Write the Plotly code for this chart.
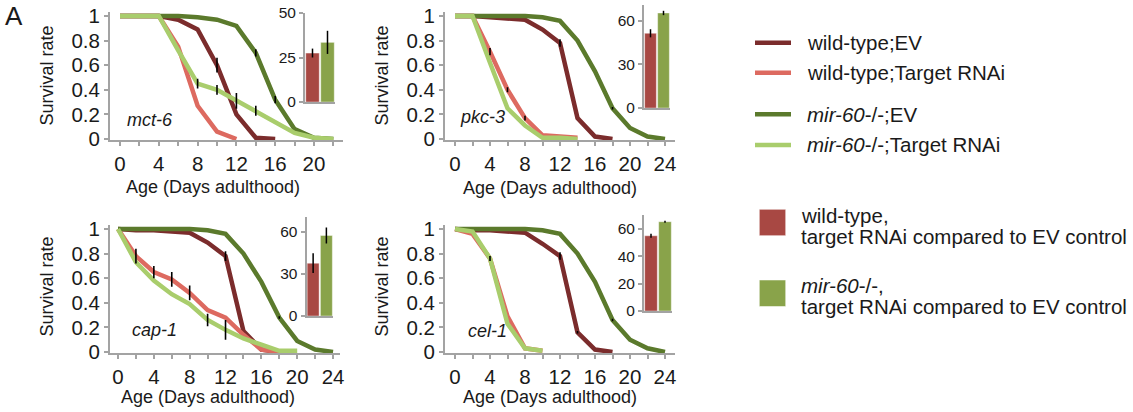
import plotly.graph_objects as go

W, H = 1133, 412

# ---------------- data ----------------
panels = ["mct-6", "pkc-3", "cap-1", "cel-1"]

# panel 1: mct-6
p1_wt_ev_days = [0, 2, 4, 6, 8, 10, 12, 14, 16]
p1_wt_ev = [1, 1, 1, 0.97, 0.89, 0.60, 0.20, 0.01, 0]
p1_wt_ev_err = [0, 0, 0, 0, 0, 0.06, 0, 0, 0]
p1_wt_rnai_days = [0, 2, 4, 6, 8, 10, 12]
p1_wt_rnai = [1, 1, 1, 0.75, 0.27, 0.06, 0]
p1_wt_rnai_err = [0, 0, 0, 0, 0, 0, 0]
p1_mir_ev_days = [0, 2, 4, 6, 8, 10, 12, 14, 16, 18, 20, 22]
p1_mir_ev = [1, 1, 1, 1, 0.99, 0.97, 0.92, 0.70, 0.32, 0.08, 0.01, 0]
p1_mir_ev_err = [0, 0, 0, 0, 0, 0, 0, 0.03, 0.03, 0, 0, 0]
p1_mir_rnai_days = [0, 2, 4, 6, 8, 10, 12, 14, 16, 18, 20, 22]
p1_mir_rnai = [1, 1, 1, 0.72, 0.45, 0.40, 0.31, 0.23, 0.13, 0.05, 0.01, 0]
p1_mir_rnai_err = [0, 0, 0, 0, 0.04, 0.04, 0.065, 0.04, 0, 0, 0, 0]

# panel 2: pkc-3
p2_wt_ev_days = [0, 2, 4, 6, 8, 10, 12, 14, 16, 18]
p2_wt_ev = [1, 1, 0.99, 0.98, 0.97, 0.89, 0.78, 0.17, 0.02, 0]
p2_wt_ev_err = [0, 0, 0, 0, 0, 0, 0.03, 0, 0, 0]
p2_wt_rnai_days = [0, 2, 4, 6, 8, 10, 12, 14]
p2_wt_rnai = [1, 1, 0.71, 0.40, 0.17, 0.03, 0.02, 0.01]
p2_wt_rnai_err = [0, 0, 0.03, 0.02, 0.02, 0, 0, 0]
p2_mir_ev_days = [0, 2, 4, 6, 8, 10, 12, 14, 16, 18, 20, 22, 24]
p2_mir_ev = [1, 1, 1, 1, 1, 0.99, 0.96, 0.80, 0.55, 0.25, 0.09, 0.02, 0]
p2_mir_ev_err = [0, 0, 0, 0, 0, 0, 0, 0, 0, 0.01, 0, 0, 0]
p2_mir_rnai_days = [0, 2, 4, 6, 8, 10, 12, 14]
p2_mir_rnai = [1, 1, 0.62, 0.25, 0.11, 0.01, 0.01, 0]
p2_mir_rnai_err = [0, 0, 0, 0, 0, 0, 0, 0]

# panel 3: cap-1
p3_wt_ev_days = [0, 2, 4, 6, 8, 10, 12, 14, 16, 18]
p3_wt_ev = [1, 0.99, 0.99, 0.98, 0.97, 0.89, 0.78, 0.17, 0.02, 0]
p3_wt_ev_err = [0, 0, 0, 0, 0, 0, 0.04, 0, 0, 0]
p3_wt_rnai_days = [0, 2, 4, 6, 8, 10, 12, 14, 16, 18]
p3_wt_rnai = [1, 0.78, 0.65, 0.59, 0.48, 0.34, 0.28, 0.14, 0.02, 0]
p3_wt_rnai_err = [0, 0.06, 0.05, 0.06, 0.06, 0, 0, 0, 0, 0]
p3_mir_ev_days = [0, 2, 4, 6, 8, 10, 12, 14, 16, 18, 20, 22, 24]
p3_mir_ev = [1, 1, 1, 1, 1, 0.99, 0.96, 0.80, 0.57, 0.28, 0.09, 0.02, 0]
p3_mir_ev_err = [0, 0, 0, 0, 0, 0, 0, 0, 0, 0.01, 0, 0, 0]
p3_mir_rnai_days = [0, 2, 4, 6, 8, 10, 12, 14, 16, 18, 20]
p3_mir_rnai = [1, 0.73, 0.58, 0.47, 0.39, 0.26, 0.18, 0.11, 0.06, 0.01, 0.01]
p3_mir_rnai_err = [0, 0, 0, 0, 0, 0.05, 0.08, 0, 0, 0, 0]

# panel 4: cel-1
p4_wt_ev_days = [0, 2, 4, 6, 8, 10, 12, 14, 16, 18]
p4_wt_ev = [1, 0.99, 0.99, 0.98, 0.97, 0.88, 0.78, 0.16, 0.02, 0]
p4_wt_ev_err = [0, 0, 0, 0, 0, 0, 0.03, 0.01, 0, 0]
p4_wt_rnai_days = [0, 2, 4, 6, 8, 10]
p4_wt_rnai = [1, 0.96, 0.76, 0.29, 0.03, 0.01]
p4_wt_rnai_err = [0, 0, 0, 0, 0, 0]
p4_mir_ev_days = [0, 2, 4, 6, 8, 10, 12, 14, 16, 18, 20, 22, 24]
p4_mir_ev = [1, 1, 1, 1, 1, 0.99, 0.96, 0.80, 0.57, 0.26, 0.10, 0.03, 0]
p4_mir_ev_err = [0, 0, 0, 0, 0, 0, 0, 0, 0, 0.01, 0, 0, 0]
p4_mir_rnai_days = [0, 2, 4, 6, 8, 10]
p4_mir_rnai = [1, 0.98, 0.76, 0.23, 0.03, 0.01]
p4_mir_rnai_err = [0, 0, 0.02, 0, 0, 0]

# inset bars: % lifespan reduction, target RNAi compared to EV control
inset_wt = [27.5, 51.5, 37.5, 55.0]
inset_wt_err = [2.5, 2.8, 7.0, 1.5]
inset_mir = [33.5, 65.5, 57.2, 65.3]
inset_mir_err = [6.5, 1.5, 5.7, 0.7]
inset_ticks = [[0, 25, 50], [0, 30, 60], [0, 30, 60], [0, 20, 40, 60]]

series_names = ["wild-type;EV", "wild-type;Target RNAi", "mir-60-/-;EV", "mir-60-/-;Target RNAi"]

panel_data = [
    [(p1_wt_ev_days, p1_wt_ev, p1_wt_ev_err), (p1_wt_rnai_days, p1_wt_rnai, p1_wt_rnai_err),
     (p1_mir_ev_days, p1_mir_ev, p1_mir_ev_err), (p1_mir_rnai_days, p1_mir_rnai, p1_mir_rnai_err)],
    [(p2_wt_ev_days, p2_wt_ev, p2_wt_ev_err), (p2_wt_rnai_days, p2_wt_rnai, p2_wt_rnai_err),
     (p2_mir_ev_days, p2_mir_ev, p2_mir_ev_err), (p2_mir_rnai_days, p2_mir_rnai, p2_mir_rnai_err)],
    [(p3_wt_ev_days, p3_wt_ev, p3_wt_ev_err), (p3_wt_rnai_days, p3_wt_rnai, p3_wt_rnai_err),
     (p3_mir_ev_days, p3_mir_ev, p3_mir_ev_err), (p3_mir_rnai_days, p3_mir_rnai, p3_mir_rnai_err)],
    [(p4_wt_ev_days, p4_wt_ev, p4_wt_ev_err), (p4_wt_rnai_days, p4_wt_rnai, p4_wt_rnai_err),
     (p4_mir_ev_days, p4_mir_ev, p4_mir_ev_err), (p4_mir_rnai_days, p4_mir_rnai, p4_mir_rnai_err)],
]

# ---------------- style ----------------
LINE_COLORS = ["#7b2c2c", "#dd6a60", "#5b7a2c", "#a9cd6c"]
BAR_RED = "#a84843"
BAR_GREEN = "#89a34a"
AXIS_GRAY = "#a3a3a3"
FONT = "Liberation Sans, Arial, Helvetica, sans-serif"
TXT = "#1a1a1a"

def fx(px):
    return px / W

def fy(py):
    return 1 - py / H

main_geo = [
    dict(L=110, R=343, x0=120, ppd=9.7, y1=16, y0=139, xmax=22),
    dict(L=445, R=675, x0=455, ppd=8.75, y1=16, y0=139, xmax=24),
    dict(L=110, R=340, x0=118, ppd=8.96, y1=229, y0=352, xmax=24),
    dict(L=445, R=675, x0=455, ppd=8.75, y1=229, y0=352, xmax=24),
]
inset_geo = [
    dict(L=305, R=335, base=102, top=13, vtop=50),
    dict(L=644, R=670, base=108, top=5, vtop=71),
    dict(L=306.5, R=333, base=316, top=216.5, vtop=70.7),
    dict(L=644, R=672, base=311, top=215, vtop=70.2),
]

fig = go.Figure()
layout = dict(
    width=W, height=H,
    margin=dict(l=0, r=0, t=0, b=0, pad=0, autoexpand=False),
    paper_bgcolor="white", plot_bgcolor="rgba(0,0,0,0)",
    showlegend=False,
    font=dict(family=FONT, color=TXT),
)

YLO, YHI = -0.012, 1.03
annotations = []
shapes = []

for i, g in enumerate(main_geo):
    n = i + 1
    xa = "x" if n == 1 else f"x{n}"
    ya = "y" if n == 1 else f"y{n}"
    for s, (days, vals, errs) in enumerate(panel_data[i]):
        fig.add_trace(go.Scatter(
            x=days, y=vals, mode="lines", name=series_names[s],
            line=dict(color=LINE_COLORS[s], width=4.5),
            xaxis=xa, yaxis=ya, hoverinfo="skip"))
    for s, (days, vals, errs) in enumerate(panel_data[i]):
        fig.add_trace(go.Scatter(
            x=days, y=vals, mode="markers", marker=dict(size=1, opacity=0),
            error_y=dict(type="data", array=errs, visible=True, color="black",
                         thickness=1.6, width=0),
            xaxis=xa, yaxis=ya, hoverinfo="skip"))
    span = g["y0"] - g["y1"]
    top_px = g["y1"] - (YHI - 1) * span
    bot_px = g["y0"] + (-YLO) * span
    xr = [(g["L"] - g["x0"]) / g["ppd"], (g["R"] - g["x0"]) / g["ppd"]]
    tv = list(range(0, g["xmax"] + 1, 2))
    tt = [str(v) if v % 4 == 0 else "" for v in tv]
    layout["xaxis" if n == 1 else f"xaxis{n}"] = dict(
        domain=[fx(g["L"]), fx(g["R"])], range=xr, anchor=ya,
        showline=True, linecolor=AXIS_GRAY, linewidth=2,
        ticks="outside", ticklen=4, tickwidth=1.5, tickcolor=AXIS_GRAY,
        tickvals=tv, ticktext=tt, tickfont=dict(size=20.5, family=FONT, color=TXT),
        showgrid=False, zeroline=False, fixedrange=True, automargin=False)
    layout["yaxis" if n == 1 else f"yaxis{n}"] = dict(
        domain=[fy(bot_px), fy(top_px)], range=[YLO, YHI], anchor=xa,
        showline=True, linecolor=AXIS_GRAY, linewidth=2,
        ticks="outside", ticklen=4, tickwidth=1.5, tickcolor=AXIS_GRAY,
        tickvals=[0, 0.2, 0.4, 0.6, 0.8, 1], ticktext=["0", "0.2", "0.4", "0.6", "0.8", "1"],
        tickfont=dict(size=20.5, family=FONT, color=TXT),
        showgrid=False, zeroline=False, fixedrange=True, automargin=False)

for i, g in enumerate(inset_geo):
    n = i + 5
    xa, ya = f"x{n}", f"y{n}"
    fig.add_trace(go.Bar(
        x=[0, 1], y=[inset_wt[i], inset_mir[i]],
        marker=dict(color=[BAR_RED, BAR_GREEN], line=dict(color="rgba(255,255,255,0.5)", width=0.8)),
        error_y=dict(type="data", array=[inset_wt_err[i], inset_mir_err[i]], visible=True,
                     color="black", thickness=1.5, width=0),
        width=0.9, xaxis=xa, yaxis=ya, hoverinfo="skip"))
    layout[f"xaxis{n}"] = dict(
        domain=[fx(g["L"]), fx(g["R"])], range=[-0.5, 1.5], anchor=ya,
        showline=True, linecolor=AXIS_GRAY, linewidth=2, showticklabels=False,
        ticks="", showgrid=False, zeroline=False, fixedrange=True, automargin=False)
    layout[f"yaxis{n}"] = dict(
        domain=[fy(g["base"]), fy(g["top"])], range=[0, g["vtop"]], anchor=xa,
        showline=True, linecolor=AXIS_GRAY, linewidth=2,
        ticks="outside", ticklen=4, tickwidth=1.5, tickcolor=AXIS_GRAY,
        tickvals=inset_ticks[i], tickfont=dict(size=15.5, family=FONT, color=TXT),
        showgrid=False, zeroline=False, fixedrange=True, automargin=False)

ytitle_pos = [(46.5, 76), (381.5, 76), (46.5, 287), (381.5, 287)]
xtitle_pos = [(213, 187), (550, 188), (208, 397), (550, 397)]
gene_pos = [(125, 120), (458, 117), (130, 330), (466, 331)]
for i in range(4):
    annotations.append(dict(text="Survival rate", x=fx(ytitle_pos[i][0]), y=fy(ytitle_pos[i][1]),
                            xref="paper", yref="paper", showarrow=False, textangle=-90,
                            xanchor="center", yanchor="middle",
                            font=dict(size=18, family=FONT, color=TXT)))
    annotations.append(dict(text="Age (Days adulthood)", x=fx(xtitle_pos[i][0]), y=fy(xtitle_pos[i][1]),
                            xref="paper", yref="paper", showarrow=False,
                            xanchor="center", yanchor="middle",
                            font=dict(size=18, family=FONT, color=TXT)))
    annotations.append(dict(text=f"<i>{panels[i]}</i>", x=fx(gene_pos[i][0]), y=fy(gene_pos[i][1]),
                            xref="paper", yref="paper", showarrow=False,
                            xanchor="left", yanchor="middle",
                            font=dict(size=18, family=FONT, color=TXT)))

annotations.append(dict(text="A", x=fx(3), y=fy(16), xref="paper", yref="paper", showarrow=False,
                        xanchor="left", yanchor="middle", font=dict(size=26, family=FONT, color=TXT)))

leg_labels = ["wild-type;EV", "wild-type;Target RNAi", "<i>mir-60</i>-/-;EV", "<i>mir-60</i>-/-;Target RNAi"]
leg_y = [42.7, 72.7, 114.3, 145]
for s in range(4):
    shapes.append(dict(type="line", xref="paper", yref="paper",
                       x0=fx(755), x1=fx(791), y0=fy(leg_y[s]), y1=fy(leg_y[s]),
                       line=dict(color=LINE_COLORS[s], width=4.5)))
    annotations.append(dict(text=leg_labels[s], x=fx(805), y=fy(leg_y[s]), xref="paper", yref="paper",
                            showarrow=False, xanchor="left", yanchor="middle",
                            font=dict(size=20.5, family=FONT, color=TXT)))

bar_leg = [
    (BAR_RED, 209.3, 235.7, "wild-type,", 215, 236.7),
    (BAR_GREEN, 280, 306.5, "<i>mir-60</i>-/-,", 285, 306),
]
for col, t, b, l1, y1, y2 in bar_leg:
    shapes.append(dict(type="rect", xref="paper", yref="paper",
                       x0=fx(759.3), x1=fx(785.7), y0=fy(b), y1=fy(t),
                       fillcolor=col, line=dict(color="rgba(255,255,255,0.5)", width=1)))
    annotations.append(dict(text=l1, x=fx(798.5), y=fy(y1), xref="paper", yref="paper",
                            showarrow=False, xanchor="left", yanchor="middle",
                            font=dict(size=20.5, family=FONT, color=TXT)))
    annotations.append(dict(text="target RNAi compared to EV control", x=fx(798.5), y=fy(y2),
                            xref="paper", yref="paper", showarrow=False, xanchor="left", yanchor="middle",
                            font=dict(size=20.5, family=FONT, color=TXT)))

layout["annotations"] = annotations
layout["shapes"] = shapes
fig.update_layout(**layout)
fig.write_html("out.html", config={"displayModeBar": False},
               post_script="document.body.style.margin='0px';")
